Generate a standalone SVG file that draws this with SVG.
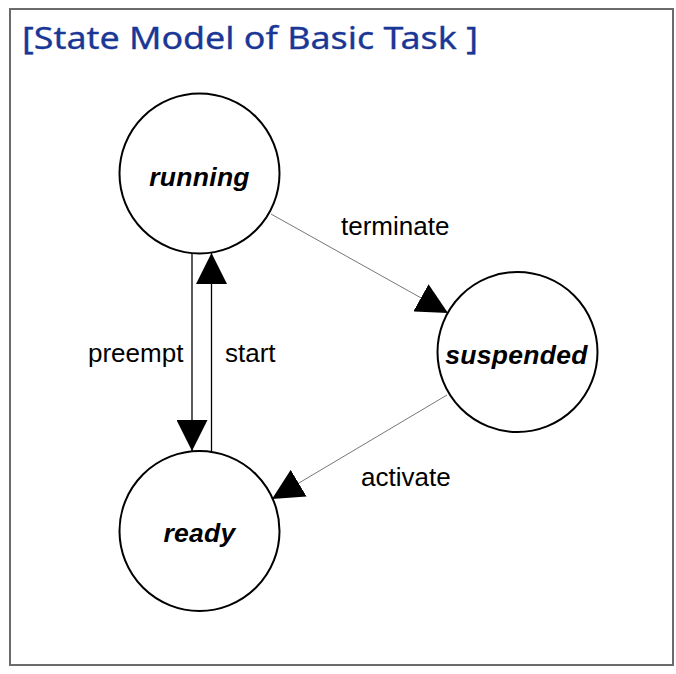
<svg xmlns="http://www.w3.org/2000/svg" width="676" height="674" viewBox="0 0 676 674">
  <style>
    .frame { fill: #ffffff; stroke: #6b6b6b; stroke-width: 2; }
    .title { font-family: "Noto Sans", "Open Sans", sans-serif; font-size: 30px; fill: #1a3796; stroke: #1a3796; stroke-width: 0.3; }
    .state { fill: #ffffff; stroke: #000000; stroke-width: 2; }
    .state-label { font-family: "Liberation Sans", Arial, sans-serif; font-size: 26.5px; font-weight: bold; font-style: italic; fill: #000000; text-anchor: middle; letter-spacing: 0.3px; }
    .edge-v { stroke: #000000; stroke-width: 1.3; fill: none; }
    .edge-d { stroke: #777777; stroke-width: 1; fill: none; }
    .edge-label { font-family: "Liberation Sans", Arial, sans-serif; font-size: 26px; fill: #000000; }
  </style>
  <defs>
    <marker id="arrow" viewBox="0 0 31 31" markerUnits="userSpaceOnUse" markerWidth="31" markerHeight="31" refX="31" refY="15.5" orient="auto">
      <path d="M0,0 L31,15.5 L0,31 Z" fill="#000000"/>
    </marker>
  </defs>

  <rect class="frame" x="10" y="9" width="663" height="656"/>
  <text class="title" x="22" y="49" textLength="456" lengthAdjust="spacingAndGlyphs">[State Model of Basic Task ]</text>

  <g id="connectors">
    <line id="edge-preempt" class="edge-v" x1="192" y1="253" x2="192" y2="451" marker-end="url(#arrow)"/>
    <line id="edge-start" class="edge-v" x1="211.5" y1="451" x2="211.5" y2="253" marker-end="url(#arrow)"/>
    <line id="edge-terminate" class="edge-d" x1="271" y1="214" x2="448" y2="313" marker-end="url(#arrow)"/>
    <line id="edge-activate" class="edge-d" x1="447" y1="395" x2="272" y2="499" marker-end="url(#arrow)"/>
    <text class="edge-label" x="88" y="362">preempt</text>
    <text class="edge-label" x="225" y="362">start</text>
    <text class="edge-label" x="341" y="235">terminate</text>
    <text class="edge-label" x="361" y="486">activate</text>
  </g>

  <g id="node-running">
    <circle class="state" cx="199.5" cy="173.5" r="80"/>
    <text class="state-label" x="199.5" y="186">running</text>
  </g>
  <g id="node-suspended">
    <circle class="state" cx="517.5" cy="352" r="80"/>
    <text class="state-label" x="516.5" y="364">suspended</text>
  </g>
  <g id="node-ready">
    <circle class="state" cx="199.5" cy="531" r="80"/>
    <text class="state-label" x="199.5" y="542">ready</text>
  </g>
</svg>
